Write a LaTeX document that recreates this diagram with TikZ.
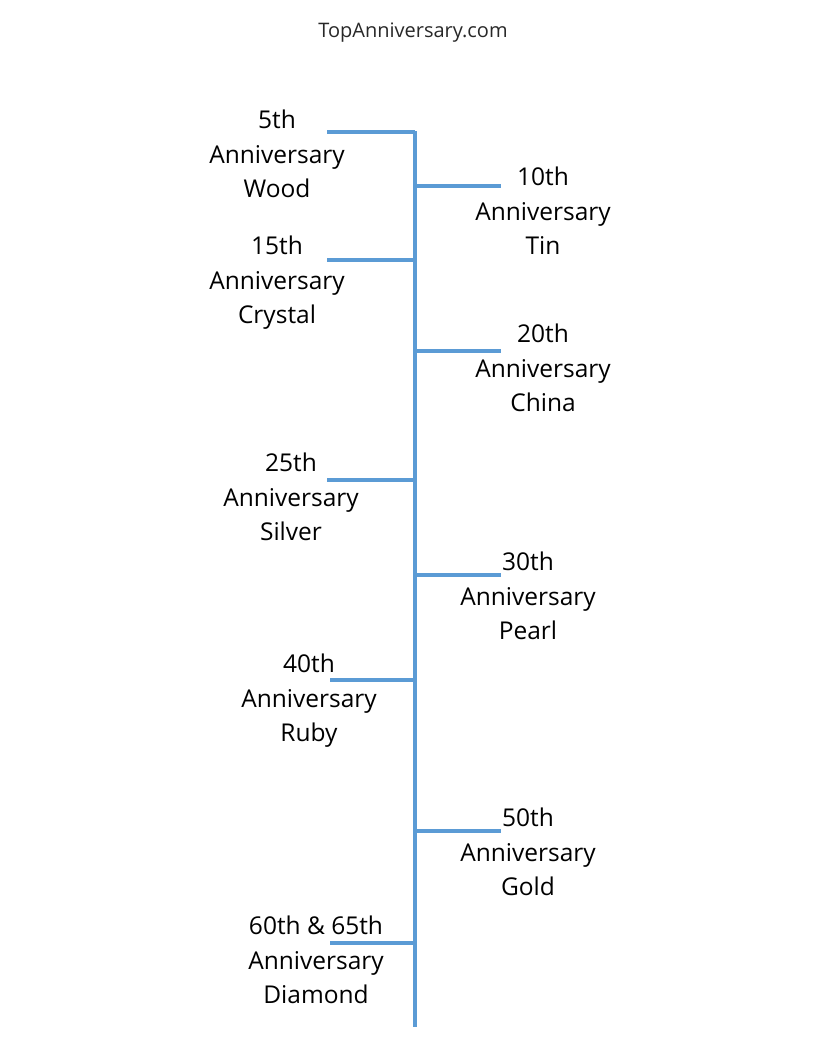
\documentclass[tikz,border=0pt]{standalone}
\usepackage{fontspec}
\setmainfont{Open Sans}
\usepackage{tikz}
\usetikzlibrary{calc}
\definecolor{lineblue}{RGB}{91,155,213}
\definecolor{textgray}{RGB}{40,40,40}
\tikzset{
	spine/.style={line width=3.2pt, draw=lineblue},
	branch/.style={line width=3.2pt, draw=lineblue}
}
\tikzstyle{label}=[align=center, text=black, font=\fontsize{24.5}{34.5}\selectfont, inner sep=0pt]
\newcommand{\annBranch}[5]{
	\coordinate (s#1) at (415,#2);
	\coordinate (e#1) at (#3,#2);
	\draw[branch] (s#1) -- (e#1);
	\node[label] (t#1) at #4 {#5};
}

\begin{document}
\begin{tikzpicture}[x=1pt, y=-1pt]
	\useasboundingbox (0,0) rectangle (828,1039);
	\node[font=\fontsize{20}{24}\selectfont, text=textgray] (title) at (413,33) {TopAnniversary.com};
	\coordinate (top) at (415,131);
	\coordinate (bottom) at (415,1027);
	\draw[spine] (top) -- (bottom);
	\annBranch{5}{132}{327}{(277,154)}{5th\\Anniversary\\Wood}
	\annBranch{10}{186}{501}{(543,211)}{10th\\Anniversary\\Tin}
	\annBranch{15}{260}{327}{(277,283)}{15th\\Anniversary\\Crystal}
	\annBranch{20}{351}{501}{(543,368)}{20th\\Anniversary\\China}
	\annBranch{25}{480}{327}{(291,497)}{25th\\Anniversary\\Silver}
	\annBranch{30}{575}{501}{(528,596)}{30th\\Anniversary\\Pearl}
	\annBranch{40}{680}{330}{(309,701)}{40th\\Anniversary\\Ruby}
	\annBranch{50}{831}{501}{(528,852)}{50th\\Anniversary\\Gold}
	\annBranch{60}{943}{330}{(316,960)}{60th \& 65th\\Anniversary\\Diamond}
\end{tikzpicture}
\end{document}
